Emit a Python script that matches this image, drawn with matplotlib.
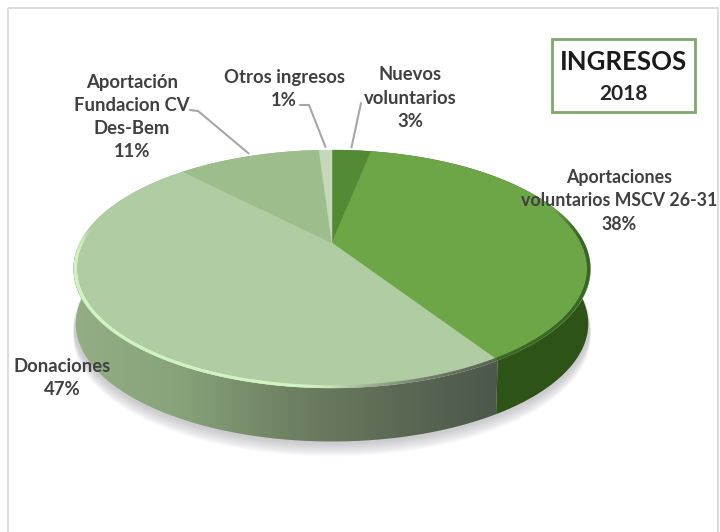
import numpy as np
import matplotlib
matplotlib.use("Agg")
import matplotlib.pyplot as plt
from matplotlib.patches import Polygon, Rectangle
from matplotlib.collections import LineCollection
from matplotlib.colors import LinearSegmentedColormap, to_rgb

categories = ["Nuevos\nvoluntarios", "Aportaciones\nvoluntarios MSCV 26-31", "Donaciones",
              "Aportación\nFundacion CV\nDes-Bem", "Otros ingresos"]
values = [3, 38, 47, 11, 1]
top_colors = ["#548a36", "#6ca646", "#b0cca3", "#9dbe8c", "#c5d8bb"]
side_stops = [["#3a6424", "#3a6424"], ["#2e5317", "#2e5317"],
              ["#93ae85", "#88a27a", "#6f8163", "#5c6a55", "#4b574a"],
              ["#8aa57c", "#8aa57c"], ["#a9c69b", "#a9c69b"]]
label_pos = [(410, 98), (619, 201), (62, 378), (132, 117), (284, 89)]
label_size = [13.3, 12.8, 13.3, 13.3, 13.3]

CX, CY = 332, 243
A, B, K, DEPTH = 113.3, 252.2, 0.2186, 55
TEXT = "#404040"
FONT = "Lato"


def project(pct, dy=0.0, scale=1.0):
    t = np.radians(np.asarray(pct, float) * 3.6)
    u, v = np.sin(t) * scale, np.cos(t) * scale
    w = 1 + K * v
    return CX + B * u / w, CY - A * v / w + dy


fig = plt.figure(figsize=(7.2, 5.32), dpi=100)
ax = fig.add_axes([0, 0, 1, 1])
ax.set_xlim(0, 720)
ax.set_ylim(532, 0)
ax.axis("off")

# chart frame
ax.add_patch(Rectangle((8, 8), 710, 530, fill=False, ec="#dcdcdc", lw=1.4, zorder=0))

# soft shadow
full = np.linspace(0, 100, 361)
for i in np.linspace(14, 0, 15):
    sx, sy = project(full, DEPTH + i * 0.9 + 1)
    ax.add_patch(Polygon(np.c_[sx, sy], fc="#55555f", ec="none", alpha=0.02, zorder=1))

# sides and top surfaces
edges = np.cumsum([0] + values)
for i in range(len(values)):
    p = np.linspace(edges[i], edges[i + 1], 120)
    x0, y0 = project(p)
    x1, y1 = project(p, DEPTH, 0.992)
    poly = Polygon(np.r_[np.c_[x0, y0], np.c_[x1, y1][::-1]], fc="none", ec="none",
                   transform=ax.transData)
    ax.add_patch(poly)
    cmap = LinearSegmentedColormap.from_list("s", [to_rgb(c) for c in side_stops[i]])
    extent = (73, 502, 532, 0) if i == 2 else (0, 720, 532, 0)
    im = ax.imshow(np.linspace(0, 1, 256)[None, :], cmap=cmap, aspect="auto",
                   extent=extent, zorder=2 + 0.01 * i)
    im.set_clip_path(poly)
ax.set_xlim(0, 720)
ax.set_ylim(532, 0)

for i in range(len(values)):
    p = np.linspace(edges[i], edges[i + 1], 120)
    x0, y0 = project(p)
    ax.add_patch(Polygon(np.r_[[[CX, CY]], np.c_[x0, y0]], fc=top_colors[i],
                         ec=top_colors[i], lw=0.3, zorder=3))

# bevel along the front rim
p = np.linspace(20, 78, 500)
bx, by = project(p, 0, 0.993)
segs = np.stack([np.c_[bx[:-1], by[:-1]], np.c_[bx[1:], by[1:]]], axis=1)
cols = []
for q, xx in zip(p[:-1], bx[:-1]):
    if q < edges[2]:
        c = (0.22, 0.40, 0.14, min(0.7, (q - 20) / 8))
    elif xx > 350:
        f = (xx - 350) / 145
        c = (0.35, 0.38, 0.33, 0.8 * f)
    elif xx > 300:
        c = (0.82, 0.95, 0.76, (350 - xx) / 50)
    elif q < 72:
        c = (0.82, 0.95, 0.76, 1.0)
    else:
        c = (0.82, 0.95, 0.76, max(0.0, (77 - q) / 5))
    cols.append(c)
ax.add_collection(LineCollection(segs, colors=cols, lw=2.2, zorder=4, capstyle="round"))

# leader lines: slice midpoint to an elbow next to the label
mids = (edges[:-1] + edges[1:]) / 2
leaders = {0: [(361, 103)], 4: [(309, 105), (300, 105)], 3: [(198, 111), (190, 110)]}
for i, pts in leaders.items():
    mx, my = project(mids[i], -3)
    xs = [mx] + [q[0] for q in pts]
    ys = [my] + [q[1] for q in pts]
    ax.plot(xs, ys, color="#a6a6a6", lw=1.5, zorder=5, solid_capstyle="round")

# data labels
for cat, val, (lx, ly), size in zip(categories, values, label_pos, label_size):
    ax.text(lx, ly, f"{cat}\n{val}%", ha="center", va="center", family=FONT,
            weight="bold", fontsize=size, color=TEXT, linespacing=24 / (size * 1.262), zorder=6)

# title box
ax.add_patch(Rectangle((552, 39), 143, 73, fc="white", ec="#7fa76c", lw=2, zorder=5))
ax.text(624, 62, "INGRESOS", ha="center", va="center", family=FONT, weight="bold",
        fontsize=18.5, color="#1a1a1a", zorder=6)
ax.text(624, 94, "2018", ha="center", va="center", family=FONT, weight="bold",
        fontsize=15, color="#262626", zorder=6)

fig.savefig("out.png", dpi=100, facecolor="white")
